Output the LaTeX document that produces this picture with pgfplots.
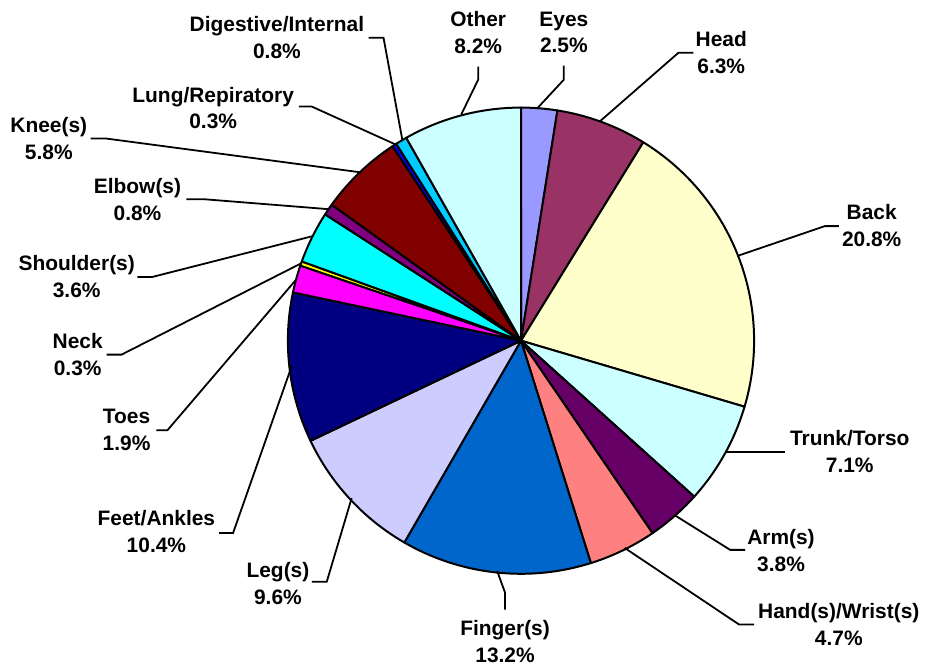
\documentclass[border=0pt]{standalone}
\usepackage{pgfplots}
\pgfplotsset{compat=1.18}
\usepackage{fontspec}
\setmainfont{Liberation Sans}
\definecolor{ceyes}{HTML}{9999FF}
\definecolor{chead}{HTML}{993366}
\definecolor{cback}{HTML}{FFFFCC}
\definecolor{ctrunk}{HTML}{CCFFFF}
\definecolor{carm}{HTML}{660066}
\definecolor{chand}{HTML}{FF8080}
\definecolor{cfinger}{HTML}{0066CC}
\definecolor{cleg}{HTML}{CCCCFF}
\definecolor{cfeet}{HTML}{000080}
\definecolor{ctoes}{HTML}{FF00FF}
\definecolor{cneck}{HTML}{FFFF00}
\definecolor{cshoulder}{HTML}{00FFFF}
\definecolor{celbow}{HTML}{800080}
\definecolor{cknee}{HTML}{800000}
\definecolor{clung}{HTML}{0000FF}
\definecolor{cdig}{HTML}{00CCFF}
\definecolor{cother}{HTML}{CCFFFF}
% slice: start cumulative %, end cumulative %, colour
\newcommand{\slice}[3]{%
  \addplot[draw=black, line width=1pt, line join=round, fill=#3,
    domain={90-3.6*(#2)/1.001}:{90-3.6*(#1)/1.001}, samples=80, variable=\t]
    ({234*cos(\t)},{234*sin(\t)}) -- (axis cs:0,0) -- cycle;}
\newcommand{\lab}[3]{\node[align=center, font=\fontsize{10.5}{13.5}\selectfont\bfseries] at (axis cs:#1,#2) {#3};}
\begin{document}
\begin{tikzpicture}
\begin{axis}[x=0.5pt, y=0.5pt, xmin=-523, xmax=403, ymin=-327, ymax=342,
  hide axis, clip=false, scale only axis]
\addplot[draw=none] coordinates {(-523,-327) (403,342)};
\slice{0}{2.5}{ceyes}
\slice{2.5}{8.8}{chead}
\slice{8.8}{29.6}{cback}
\slice{29.6}{36.7}{ctrunk}
\slice{36.7}{40.5}{carm}
\slice{40.5}{45.2}{chand}
\slice{45.2}{58.4}{cfinger}
\slice{58.4}{68.0}{cleg}
\slice{68.0}{78.4}{cfeet}
\slice{78.4}{80.3}{ctoes}
\slice{80.3}{80.6}{cneck}
\slice{80.6}{84.2}{cshoulder}
\slice{84.2}{85.0}{celbow}
\slice{85.0}{90.8}{cknee}
\slice{90.8}{91.1}{clung}
\slice{91.1}{91.9}{cdig}
\slice{91.9}{100.1}{cother}
% leader lines
\pgfplotsset{every axis plot/.append style={}}
\addplot[black, line width=0.9pt] coordinates {(43,276) (43,262) (17,234)};
\addplot[black, line width=0.9pt] coordinates {(-43,275) (-43,262) (-60,227)};
\addplot[black, line width=0.9pt] coordinates {(173,289) (158,289) (79,220)};
\addplot[black, line width=0.9pt] coordinates {(319,115) (305,115) (217,85)};
\addplot[black, line width=0.9pt] coordinates {(265,-112) (205,-112)};
\addplot[black, line width=0.9pt] coordinates {(225,-210) (210,-210) (154,-175)};
\addplot[black, line width=0.9pt] coordinates {(234,-285) (219,-285) (104,-208)};
\addplot[black, line width=0.9pt] coordinates {(-16,-270) (-16,-253) (-24,-231)};
\addplot[black, line width=0.9pt] coordinates {(-210,-242) (-195,-242) (-170,-158)};
\addplot[black, line width=0.9pt] coordinates {(-303,-193) (-289,-193) (-230,-25)};
\addplot[black, line width=0.9pt] coordinates {(-366,-90) (-355,-90) (-226,61)};
\addplot[black, line width=0.9pt] coordinates {(-416,-14) (-401,-14) (-220,78)};
\addplot[black, line width=0.9pt] coordinates {(-385,64) (-370,64) (-209,105)};
\addplot[black, line width=0.9pt] coordinates {(-336,142) (-318,142) (-193,132)};
\addplot[black, line width=0.9pt] coordinates {(-432,203) (-417,203) (-161,169)};
\addplot[black, line width=0.9pt] coordinates {(-223,235) (-210,235) (-126,197)};
\addplot[black, line width=0.9pt] coordinates {(-153,304) (-138,304) (-119,201)};
% labels
\lab{43}{309.5}{Eyes\\2.5\%}
\lab{-43}{309.5}{Other\\8.2\%}
\lab{201}{289}{Head\\6.3\%}
\lab{352}{116}{Back\\20.8\%}
\lab{330}{-111.5}{Trunk/Torso\\7.1\%}
\lab{261}{-211}{Arm(s)\\3.8\%}
\lab{319}{-285}{Hand(s)/Wrist(s)\\4.7\%}
\lab{-16}{-302}{Finger(s)\\13.2\%}
\lab{-244}{-244}{Leg(s)\\9.6\%}
\lab{-366}{-192}{Feet/Ankles\\10.4\%}
\lab{-396}{-89.5}{Toes\\1.9\%}
\lab{-445}{-14}{Neck\\0.3\%}
\lab{-446}{64.5}{Shoulder(s)\\3.6\%}
\lab{-385}{141.5}{Elbow(s)\\0.8\%}
\lab{-474}{202.5}{Knee(s)\\5.8\%}
\lab{-309}{233.5}{Lung/Repiratory\\0.3\%}
\lab{-245}{304}{Digestive/Internal\\0.8\%}
\end{axis}
\end{tikzpicture}
\end{document}
